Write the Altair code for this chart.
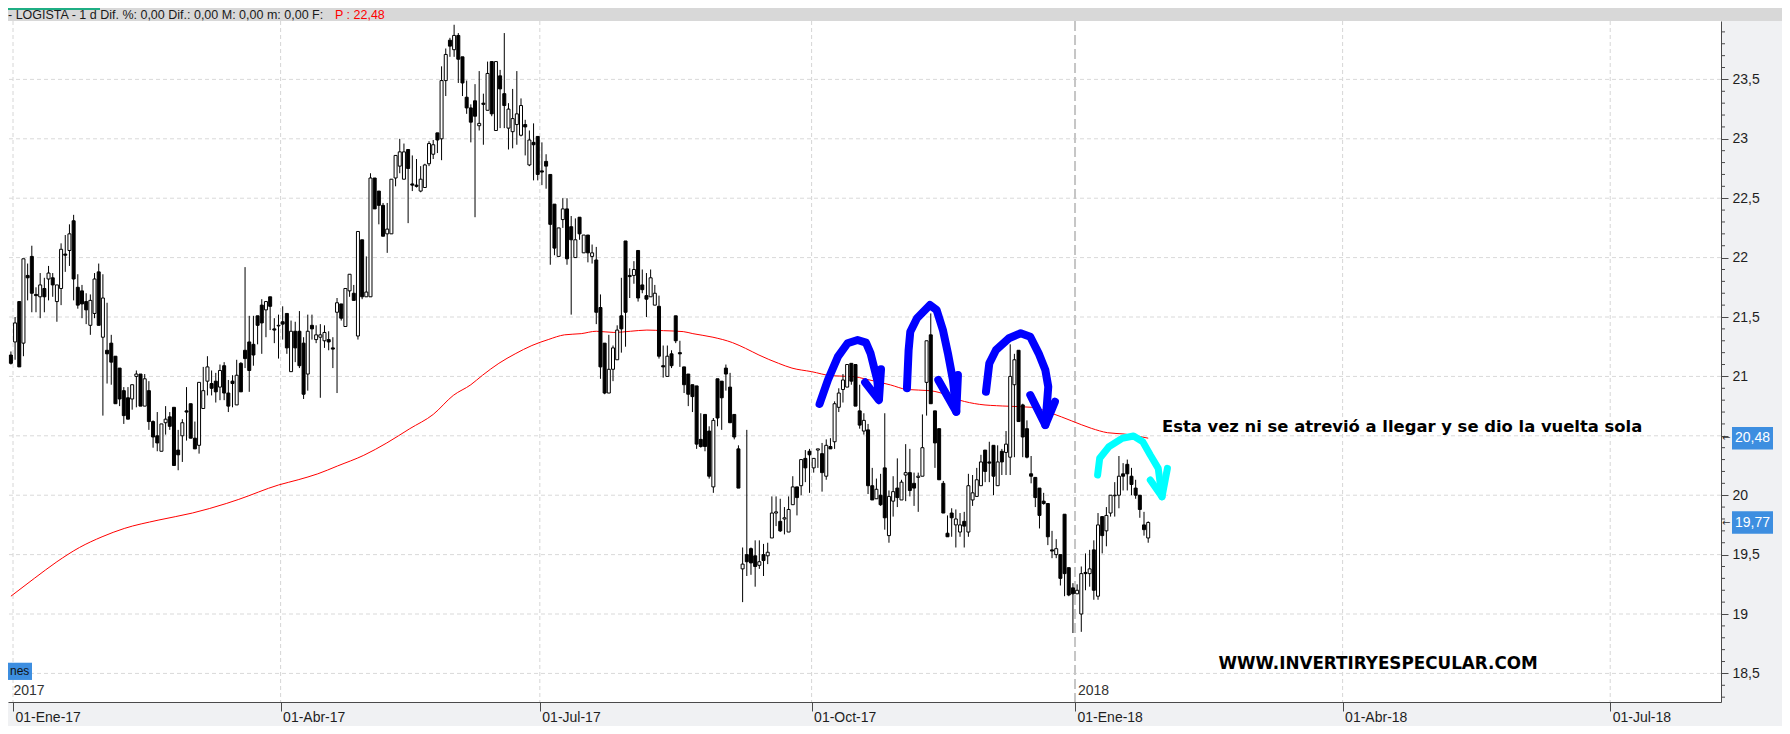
import altair as alt
import pandas as pd

# ---------------- data ----------------
OPEN = [21.18, 21.29, 21.63, 21.28, 21.85, 22.01, 21.69, 21.67, 21.74, 21.82,
        21.83, 21.63, 21.74, 22.03, 22.06, 22.31, 21.75, 21.72, 21.63, 21.43,
        21.53, 21.88, 21.33, 21.22, 21.28, 21.17, 21.07, 20.88, 20.82, 20.81,
        21.00, 21.02, 20.75, 20.88, 20.62, 20.50, 20.37, 20.61, 20.66, 20.74,
        20.38, 20.50, 20.71, 20.77, 20.48, 20.42, 20.73, 20.96, 20.94, 20.96,
        20.91, 21.09, 20.86, 20.96, 20.76, 21.11, 21.22, 21.29, 21.27, 21.51,
        21.60, 21.56, 21.67, 21.40, 21.425, 21.46, 21.53, 21.04, 21.38, 21.38,
        21.28, 21.02, 21.43, 21.31, 21.33, 21.30, 21.31, 21.24, 21.54, 21.61,
        21.42, 21.72, 21.70, 21.34, 22.15, 21.67, 21.67, 22.67, 22.56, 22.44,
        22.20, 22.20, 22.67, 22.77, 22.66, 22.91, 22.62, 22.61, 22.56, 22.59,
        22.79, 22.87, 23.05, 23.00, 23.49, 23.83, 23.75, 23.87, 23.69, 23.35,
        23.26, 23.32, 23.11, 23.30, 23.24, 23.65, 23.07, 23.53, 23.38, 23.09,
        23.06, 23.12, 23.03, 23.12, 22.78, 22.97, 23.02, 22.73, 22.81, 22.70,
        22.45, 22.01, 22.32, 22.41, 22.26, 22.00, 22.34, 22.04, 22.19, 22.01,
        21.98, 21.58, 21.28, 20.86, 21.06, 21.14, 21.51, 22.14, 21.85, 21.85,
        22.06, 21.77, 21.68, 21.67, 21.60, 21.59, 21.09, 21.00, 21.19, 21.51,
        21.20, 21.08, 21.02, 20.93, 20.92, 20.47, 20.68, 20.54, 20.07, 20.98,
        20.96, 21.07, 20.91, 20.68, 20.39, 19.38, 19.50, 19.55, 19.49, 19.41,
        19.50, 19.49, 19.64, 19.85, 19.78, 19.80, 19.69, 19.92, 20.07, 20.08,
        20.31, 20.37, 20.23, 20.38, 20.35, 20.16, 20.41, 20.45, 20.74, 20.89,
        20.91, 21.11, 21.10, 20.71, 20.54, 20.55, 20.08, 19.97, 20.00, 20.23,
        19.66, 19.95, 20.06, 19.96, 20.17, 20.19, 20.10, 20.15, 20.16, 20.95,
        21.35, 20.71, 20.56, 20.10, 19.68, 19.85, 19.75, 19.69, 19.78, 19.69,
        19.96, 19.99, 20.08, 20.38, 20.28, 20.42, 20.08, 20.37, 20.36, 20.32,
        20.93, 21.22, 20.76, 20.56, 20.18, 20.15, 20.06, 19.95, 19.93, 19.54,
        19.50, 19.50, 19.84, 19.39, 19.22, 19.17, 19.00, 19.35, 19.34, 19.54,
        19.15, 19.82, 19.70, 19.85, 19.995, 20.00, 20.18, 20.26, 20.16, 20.06,
        20.00, 19.75, 19.64]
HIGH = [21.21, 21.50, 21.63, 21.99, 21.95, 22.10, 21.75, 21.87, 21.83, 21.93,
        21.87, 21.77, 22.12, 22.19, 22.28, 22.36, 21.86, 21.77, 21.70, 21.69,
        21.87, 21.95, 21.86, 21.62, 21.35, 21.17, 21.07, 20.91, 20.91, 20.93,
        21.05, 21.02, 21.02, 20.96, 20.63, 20.70, 20.60, 20.75, 20.70, 20.74,
        20.55, 20.64, 20.91, 20.77, 20.62, 20.95, 21.08, 21.17, 21.05, 21.03,
        21.10, 21.12, 20.97, 21.01, 21.14, 21.12, 21.92, 21.51, 21.51, 21.51,
        21.65, 21.63, 21.67, 21.49, 21.52, 21.59, 21.53, 21.47, 21.46, 21.55,
        21.33, 21.52, 21.52, 21.43, 21.44, 21.43, 21.38, 21.33, 21.66, 21.61,
        21.74, 21.86, 21.77, 22.22, 22.15, 22.01, 22.71, 22.67, 22.56, 22.46,
        22.46, 22.66, 22.86, 23.00, 22.96, 22.91, 22.86, 22.83, 22.77, 22.79,
        22.98, 22.99, 23.05, 23.61, 23.76, 23.85, 23.96, 23.89, 23.69, 23.49,
        23.29, 23.46, 23.57, 23.38, 23.65, 23.65, 23.65, 23.58, 23.89, 23.30,
        23.42, 23.57, 23.34, 23.16, 23.07, 23.13, 23.02, 22.97, 22.87, 22.70,
        22.45, 22.25, 22.50, 22.50, 22.35, 22.33, 22.34, 22.19, 22.19, 22.11,
        22.09, 21.69, 21.28, 21.35, 21.26, 21.43, 21.83, 22.14, 21.91, 21.97,
        22.06, 21.90, 21.87, 21.90, 21.77, 21.68, 21.26, 21.26, 21.22, 21.51,
        21.30, 21.08, 21.02, 20.93, 20.92, 20.69, 20.68, 20.58, 20.65, 20.98,
        20.96, 21.10, 21.03, 20.68, 20.42, 19.56, 20.55, 19.56, 19.62, 19.62,
        19.59, 19.60, 19.99, 19.99, 19.97, 19.90, 19.99, 20.16, 20.07, 20.30,
        20.38, 20.39, 20.31, 20.39, 20.44, 20.47, 20.48, 20.79, 20.90, 21.02,
        21.10, 21.11, 21.10, 20.93, 20.69, 20.60, 20.23, 20.14, 20.18, 20.69,
        20.04, 20.16, 20.31, 20.13, 20.43, 20.39, 20.19, 20.19, 20.68, 21.30,
        21.53, 20.71, 20.56, 20.12, 19.83, 19.89, 19.88, 19.85, 19.86, 20.18,
        20.17, 20.23, 20.34, 20.38, 20.45, 20.42, 20.42, 20.39, 20.54, 21.27,
        21.19, 21.22, 20.77, 20.63, 20.33, 20.15, 20.06, 20.02, 19.93, 19.70,
        19.63, 19.50, 19.84, 19.39, 19.26, 19.25, 19.40, 19.51, 19.54, 19.62,
        19.85, 19.82, 19.90, 20.00, 20.11, 20.33, 20.27, 20.30, 20.23, 20.13,
        20.00, 19.86, 19.78]
LOW = [21.10, 21.14, 21.08, 21.17, 21.64, 21.54, 21.54, 21.49, 21.54, 21.64,
       21.67, 21.46, 21.60, 21.88, 21.93, 21.64, 21.57, 21.49, 21.44, 21.35,
       21.49, 21.43, 20.67, 20.94, 20.93, 20.77, 20.75, 20.60, 20.64, 20.72,
       20.74, 20.75, 20.75, 20.55, 20.40, 20.37, 20.37, 20.51, 20.55, 20.25,
       20.21, 20.28, 20.46, 20.48, 20.39, 20.35, 20.73, 20.84, 20.84, 20.78,
       20.80, 20.80, 20.70, 20.74, 20.76, 20.87, 21.07, 20.87, 21.09, 21.27,
       21.19, 21.33, 21.39, 21.28, 21.15, 21.31, 21.19, 21.04, 21.12, 21.07,
       20.81, 20.88, 21.31, 21.28, 20.82, 21.24, 21.22, 21.07, 20.86, 21.47,
       21.42, 21.67, 21.64, 21.31, 21.65, 21.67, 21.67, 22.41, 22.28, 22.18,
       22.04, 22.20, 22.60, 22.71, 22.66, 22.29, 22.56, 22.59, 22.55, 22.59,
       22.77, 22.83, 22.88, 22.82, 23.36, 23.69, 23.69, 23.47, 23.36, 23.21,
       22.97, 22.34, 23.07, 22.95, 23.24, 23.19, 23.07, 23.09, 23.09, 22.91,
       22.92, 22.95, 23.02, 22.86, 22.77, 22.65, 22.65, 22.61, 22.58, 21.94,
       22.02, 22.01, 22.25, 21.94, 21.52, 22.00, 22.15, 22.04, 21.96, 21.95,
       21.44, 20.98, 20.85, 20.86, 20.96, 21.14, 21.20, 21.25, 21.66, 21.78,
       21.63, 21.70, 21.50, 21.67, 21.60, 21.15, 20.99, 21.00, 21.07, 21.28,
       21.08, 20.86, 20.75, 20.70, 20.39, 20.40, 20.37, 20.14, 20.02, 20.58,
       20.55, 20.88, 20.61, 20.47, 20.06, 19.10, 19.32, 19.33, 19.23, 19.38,
       19.32, 19.42, 19.64, 19.74, 19.69, 19.67, 19.69, 19.92, 19.83, 20.00,
       20.11, 20.02, 20.19, 20.23, 20.03, 20.13, 20.39, 20.39, 20.70, 20.78,
       20.91, 20.93, 20.75, 20.56, 20.51, 20.01, 19.96, 19.97, 19.91, 19.71,
       19.60, 19.82, 19.90, 19.96, 19.95, 19.99, 19.91, 19.86, 20.16, 20.67,
       20.77, 20.23, 20.13, 19.85, 19.65, 19.65, 19.56, 19.65, 19.56, 19.65,
       19.91, 19.99, 20.08, 20.11, 20.11, 20.00, 20.08, 20.17, 20.17, 20.17,
       20.32, 20.62, 20.32, 20.31, 20.10, 19.90, 19.72, 19.92, 19.58, 19.47,
       19.47, 19.24, 19.15, 19.15, 18.84, 19.17, 18.85, 19.20, 19.23, 19.12,
       19.12, 19.51, 19.57, 19.82, 19.82, 19.89, 20.04, 20.04, 20.00, 19.97,
       19.81, 19.66, 19.60]
CLOSE = [21.11, 21.45, 21.08, 21.99, 21.83, 21.70, 21.68, 21.77, 21.67, 21.87,
         21.77, 21.77, 22.07, 22.02, 22.20, 21.82, 21.60, 21.61, 21.56, 21.64,
         21.82, 21.43, 21.66, 21.19, 21.12, 20.77, 20.81, 20.67, 20.64, 20.93,
         21.02, 20.75, 20.98, 20.62, 20.49, 20.44, 20.60, 20.64, 20.58, 20.25,
         20.34, 20.61, 20.70, 20.48, 20.39, 20.95, 20.88, 21.08, 20.90, 20.87,
         21.05, 20.86, 20.75, 20.94, 21.01, 20.87, 21.15, 21.05, 21.18, 21.43,
         21.45, 21.63, 21.59, 21.39, 21.43, 21.44, 21.24, 21.38, 21.24, 21.09,
         20.85, 21.38, 21.40, 21.35, 21.35, 21.37, 21.29, 21.23, 21.62, 21.49,
         21.74, 21.86, 21.64, 22.22, 21.67, 21.71, 22.67, 22.41, 22.44, 22.18,
         22.24, 22.66, 22.86, 22.89, 22.89, 22.75, 22.61, 22.60, 22.66, 22.78,
         22.96, 22.95, 22.99, 23.49, 23.71, 23.78, 23.87, 23.67, 23.47, 23.26,
         23.14, 23.19, 23.13, 23.29, 23.55, 23.21, 23.65, 23.42, 23.28, 23.25,
         23.17, 23.21, 23.28, 23.10, 22.99, 22.95, 22.70, 22.72, 22.77, 22.28,
         22.08, 22.25, 22.41, 21.99, 22.15, 22.15, 22.20, 22.19, 22.04, 22.04,
         21.54, 21.08, 20.86, 21.06, 21.24, 21.39, 21.40, 21.54, 21.84, 21.90,
         21.66, 21.73, 21.65, 21.83, 21.70, 21.17, 21.08, 21.17, 21.09, 21.30,
         21.19, 20.93, 20.85, 20.83, 20.43, 20.41, 20.41, 20.16, 20.63, 20.65,
         20.82, 21.02, 20.61, 20.49, 20.06, 19.42, 19.44, 19.43, 19.40, 19.44,
         19.45, 19.52, 19.85, 19.86, 19.70, 19.81, 19.88, 20.07, 19.98, 20.30,
         20.23, 20.34, 20.31, 20.39, 20.19, 20.42, 20.39, 20.77, 20.86, 20.97,
         21.10, 20.96, 20.75, 20.59, 20.63, 20.08, 19.96, 20.05, 19.92, 19.81,
         19.99, 20.03, 19.98, 20.11, 20.19, 20.04, 20.06, 20.16, 20.40, 21.30,
         20.77, 20.44, 20.13, 19.85, 19.65, 19.81, 19.80, 19.75, 19.74, 20.08,
         20.02, 20.13, 20.28, 20.20, 20.27, 20.16, 20.28, 20.28, 20.43, 21.00,
         21.14, 20.62, 20.49, 20.32, 20.16, 19.98, 19.83, 19.93, 19.65, 19.53,
         19.55, 19.30, 19.34, 19.16, 19.17, 19.20, 19.34, 19.34, 19.38, 19.20,
         19.75, 19.66, 19.83, 20.00, 20.00, 20.16, 20.16, 20.18, 20.09, 20.00,
         19.88, 19.71, 19.77]

# red moving average, sampled along the curve (trading-day index, price)
MA_IDX = [0, 5.6, 11, 16.4, 21.8, 27.1, 35.2, 43.4, 51.5, 54.5, 64, 68.7, 73.4,
          78.1, 84.4, 89.9, 95.4, 101, 105.8, 110, 112.8, 116.7, 120.6, 124.6,
          128.5, 132.4, 136.4, 140, 144.2, 148.2, 152.1, 156.1, 160.8, 163.1,
          167.9, 172.6, 175.7, 178.9, 183.6, 186.8, 191.5, 196.2, 201.7, 204.1,
          210.4, 214.3, 219.8, 222.2, 226.9, 231.6, 237.1, 244.2, 248.9, 253.6,
          258.4, 262.3, 266.3, 272]
MA_VAL = [19.15, 19.30, 19.44, 19.56, 19.65, 19.72, 19.79, 19.85, 19.93, 19.965,
          20.086, 20.13, 20.18, 20.246, 20.336, 20.44, 20.56, 20.68, 20.84, 20.93,
          21.01, 21.11, 21.19, 21.26, 21.31, 21.35, 21.36, 21.38, 21.37, 21.38,
          21.39, 21.385, 21.377, 21.36, 21.33, 21.284, 21.236, 21.18, 21.11, 21.07,
          21.04, 21.006, 20.998, 20.98, 20.928, 20.89, 20.88, 20.863, 20.80, 20.765,
          20.751, 20.74, 20.69, 20.627, 20.563, 20.526, 20.515, 20.48]

TICK_POS = [0.5, 64.5, 126.5, 191.5, 254.5, 318.5, 382.5]
TICK_LABELS = ["01-Ene-17", "01-Abr-17", "01-Jul-17", "01-Oct-17",
               "01-Ene-18", "01-Abr-18", "01-Jul-18"]
YEAR_POS = [254.5]
PRICE_TICKS = [18.5, 19.0, 19.5, 20.0, 20.5, 21.0, 21.5, 22.0, 22.5, 23.0, 23.5]
MINOR_TICKS = [18.3, 18.4, 18.6, 18.7, 18.8, 18.9, 19.1, 19.2, 19.3, 19.4,
               19.6, 19.7, 19.8, 19.9, 20.1, 20.2, 20.3, 20.4, 20.6, 20.7,
               20.8, 20.9, 21.1, 21.2, 21.3, 21.4, 21.6, 21.7, 21.8, 21.9,
               22.1, 22.2, 22.3, 22.4, 22.6, 22.7, 22.8, 22.9, 23.1, 23.2,
               23.3, 23.4, 23.6, 23.7, 23.8, 23.9]

# hand-drawn arrows (trading-day index, price)
ARC1_I = [193.4, 195.4, 197.8, 200.1, 202.5, 204.5, 205.6, 206.4, 207.2, 207.6]
ARC1_P = [20.768, 20.970, 21.166, 21.279, 21.306, 21.284, 21.194, 21.082, 20.970, 20.816]
HEAD1_I = [204.3, 207.6, 208.1]
HEAD1_P = [20.95, 20.80, 21.06]
ARC2_I = [214.3, 214.7, 215.1, 216.7, 219.8, 221.4, 222.9, 224.1, 225.3, 226.1]
ARC2_P = [20.900, 21.222, 21.376, 21.489, 21.601, 21.559, 21.391, 21.194, 20.970, 20.703]
HEAD2_I = [221.8, 226.1, 226.5]
HEAD2_P = [20.97, 20.703, 21.012]
ARC3_I = [233.2, 234.0, 235.6, 238.7, 241.5, 243.8, 245.8, 247.4, 248.1, 247.4]
ARC3_P = [20.871, 21.110, 21.222, 21.321, 21.363, 21.334, 21.194, 21.054, 20.913, 20.591]
HEAD3_I = [243.8, 247.4, 249.7]
HEAD3_P = [20.843, 20.591, 20.787]
CYAN_I = [259.9, 260.4, 262.6, 265.8, 268.5, 270.7, 272.5, 274.4, 275.3]
CYAN_P = [20.170, 20.311, 20.408, 20.479, 20.498, 20.450, 20.338, 20.226, 19.987]
CHEAD_I = [272.5, 275.3, 276.6]
CHEAD_P = [20.128, 19.987, 20.226]

NOTE_TEXT = ["Esta vez ni se atrevió a llegar y se dio la vuelta sola"]
NOTE_I = [275.3]
NOTE_P = [20.574]
SITE_TEXT = ["WWW.INVERTIRYESPECULAR.COM"]
SITE_I = [327.0]
SITE_P = [18.58]
YEAR_TEXT = ["2017", "2018"]
YEAR_I = [0.6, 255.2]
YEAR_P = [18.352, 18.352]

LAST_VALUES = [20.48, 19.77]
LAST_TEXT = ["20,48", "19,77"]

HEADER_TEXT = "- LOGISTA -  1 d Dif. %: 0,00 Dif.: 0,00 M: 0,00 m: 0,00 F:"
HEADER_RED = "P : 22,48"

# ---------------- chart ----------------
FONT = "Liberation Sans, Arial, sans-serif"
BOLD_FONT = "DejaVu Sans, Verdana, sans-serif"
W, H = 1713, 681

xs = alt.Scale(domain=[0.5, 407.8], zero=False, nice=False)
ys = alt.Scale(domain=[18.2594, 23.9916], zero=False, nice=False)

label_expr_x = " : ".join(
    [f"datum.value == {p} ? '{l}'" for p, l in zip(TICK_POS, TICK_LABELS)]) + " : ''"

xaxis = alt.Axis(values=TICK_POS, labelExpr=label_expr_x, title=None, grid=False,
                 domainColor="#4a4a4a", tickColor="#4a4a4a", tickSize=9,
                 labelAlign="left", labelBaseline="middle", labelPadding=6,
                 labelOffset=2, labelFont=FONT, labelFontSize=14,
                 labelColor="#1e1e1e", labelOverlap=False, labelFlush=False,
                 labelBound=False)
yaxis = alt.Axis(orient="right", values=PRICE_TICKS,
                 labelExpr="datum.value == 20.5 ? '' : replace(format(datum.value, '.1~f'), '.', ',')",
                 title=None, grid=False, domainColor="#4a4a4a", tickColor="#4a4a4a",
                 tickSize=7, labelPadding=4, labelFont=FONT, labelFontSize=14,
                 labelColor="#1e1e1e", labelAlign="left", labelBaseline="middle",
                 labelOverlap=False, labelFlush=False, labelBound=False)


def X(field):
    return alt.X(f"{field}:Q", scale=xs, axis=xaxis)


def Y(field):
    return alt.Y(f"{field}:Q", scale=ys, axis=yaxis)


candles = pd.DataFrame({"i": list(range(len(OPEN))), "open": OPEN, "high": HIGH,
                        "low": LOW, "close": CLOSE})
ma = pd.DataFrame({"i": MA_IDX, "v": MA_VAL})
ticks = pd.DataFrame({"pos": TICK_POS})
years = pd.DataFrame({"pos": YEAR_POS})
prices = pd.DataFrame({"v": PRICE_TICKS})
minors = pd.DataFrame({"v": MINOR_TICKS})

strokes = []
for g, (xi, pi, col, w) in enumerate([
        (ARC1_I, ARC1_P, "#0000ff", 8), (HEAD1_I, HEAD1_P, "#0000ff", 8),
        (ARC2_I, ARC2_P, "#0000ff", 8), (HEAD2_I, HEAD2_P, "#0000ff", 8),
        (ARC3_I, ARC3_P, "#0000ff", 8), (HEAD3_I, HEAD3_P, "#0000ff", 8),
        (CYAN_I, CYAN_P, "#00ffff", 7), (CHEAD_I, CHEAD_P, "#00ffff", 7)]):
    for s, (a, b) in enumerate(zip(xi, pi)):
        strokes.append({"g": g, "s": s, "i": a, "p": b, "c": col, "w": w})
strokes = pd.DataFrame(strokes)

one = pd.DataFrame({"k": [0]})

qgrid = alt.Chart(ticks).transform_filter("datum.pos != 254.5").mark_rule(
    color="#d6d6d6", strokeDash=[4, 3], strokeWidth=1).encode(x=X("pos"))
ygrid = alt.Chart(prices).mark_rule(
    color="#d9d9d9", strokeDash=[4, 3], strokeWidth=1).encode(y=Y("v"))
yearline = alt.Chart(years).mark_rule(
    color="#c6c6c6", strokeDash=[10, 4], strokeWidth=2).encode(x=X("pos"))

ma_line = alt.Chart(ma).mark_line(color="#ff0000", strokeWidth=1, clip=True,
                                  interpolate="monotone").encode(x=X("i"), y=Y("v"))

wicks = alt.Chart(candles).mark_rule(color="black", strokeWidth=1, clip=True).encode(
    x=X("i"), y=Y("low"), y2="high")
bodies = alt.Chart(candles).mark_bar(size=3, stroke="black", strokeWidth=1,
                                     clip=True).encode(
    x=X("i"), y=Y("open"), y2="close",
    fill=alt.condition("datum.close >= datum.open", alt.value("white"),
                       alt.value("black")))

arrows = alt.Chart(strokes).mark_line(strokeCap="round", strokeJoin="round").encode(
    x=X("i"), y=Y("p"), detail="g:N", order="s:Q",
    color=alt.Color("c:N", scale=None), strokeWidth=alt.StrokeWidth("w:Q", scale=None))

note = alt.Chart(pd.DataFrame({"i": NOTE_I, "p": NOTE_P, "t": NOTE_TEXT})).mark_text(
    align="left", baseline="middle", font=BOLD_FONT, fontWeight="bold", fontSize=16.4,
    color="black").encode(x=X("i"), y=Y("p"), text="t:N")
site = alt.Chart(pd.DataFrame({"i": SITE_I, "p": SITE_P, "t": SITE_TEXT})).mark_text(
    align="center", baseline="middle", font=BOLD_FONT, fontWeight="bold", fontSize=16.8,
    color="black").encode(x=X("i"), y=Y("p"), text="t:N")
year_txt = alt.Chart(pd.DataFrame({"i": YEAR_I, "p": YEAR_P, "t": YEAR_TEXT})).mark_text(
    align="left", baseline="middle", font=FONT, fontSize=14, color="#333333").encode(
    x=X("i"), y=Y("p"), text="t:N")

nes_box = alt.Chart(pd.DataFrame({"lo": [18.445], "hi": [18.59]})).mark_rect(
    color="#3d8ee0").encode(x=alt.value(0), x2=alt.value(24), y=Y("lo"), y2="hi")
nes_txt = alt.Chart(pd.DataFrame({"p": [18.517], "t": ["nes"]})).mark_text(
    align="left", baseline="middle", font=FONT, fontSize=12, color="#111111").encode(
    x=alt.value(2), y=Y("p"), text="t:N")

header_bg = alt.Chart(one).mark_rect(color="#d8d8d8").encode(
    x=alt.value(0), x2=alt.value(1774), y=alt.value(-13), y2=alt.value(0))
header_top = alt.Chart(one).mark_rect(color="#1fae84").encode(
    x=alt.value(0), x2=alt.value(92), y=alt.value(-13), y2=alt.value(-11))
header_txt = alt.Chart(pd.DataFrame({"t": [HEADER_TEXT]})).mark_text(
    align="left", baseline="middle", font=FONT, fontSize=12.5, color="#1a1a1a").encode(
    x=alt.value(0), y=alt.value(-6), text="t:N")
header_red = alt.Chart(pd.DataFrame({"t": [HEADER_RED]})).mark_text(
    align="left", baseline="middle", font=FONT, fontSize=12.5, color="#ff0000").encode(
    x=alt.value(327), y=alt.value(-6), text="t:N")

minor_ticks = alt.Chart(minors).mark_rule(color="#4a4a4a", strokeWidth=1).encode(
    y=Y("v"), x=alt.value(W), x2=alt.value(W + 4))

lab_df = pd.DataFrame({"v": LAST_VALUES, "t": LAST_TEXT})
lab_df["lo"] = lab_df["v"] - 0.095
lab_df["hi"] = lab_df["v"] + 0.095
last_box = alt.Chart(lab_df).mark_rect(color="#3d8ee0").encode(
    x=alt.value(W + 11), x2=alt.value(W + 52), y=Y("lo"), y2="hi")
last_txt = alt.Chart(lab_df).mark_text(
    align="left", baseline="middle", font=FONT, fontSize=14, color="white").encode(
    x=alt.value(W + 14), y=Y("v"), text="t:N")
last_arrow = alt.Chart(lab_df).mark_text(
    align="left", baseline="middle", font="DejaVu Sans", fontSize=10,
    color="#333333").encode(x=alt.value(W + 1), y=Y("v"), text=alt.value("←"))

chart = alt.layer(
    qgrid, ygrid, yearline, ma_line, wicks, bodies, arrows, note, site, year_txt,
    nes_box, nes_txt, header_bg, header_top, header_txt, header_red, minor_ticks,
    last_box, last_txt, last_arrow
).properties(
    width=W, height=H,
    padding={"left": 0, "top": 13, "right": 61, "bottom": 24},
    autosize=alt.AutoSizeParams(type="none"),
    background="#f0f1f3",
).configure_view(stroke=None, fill="white")

chart.save("out.html", embed_options={"renderer": "svg", "actions": False})
